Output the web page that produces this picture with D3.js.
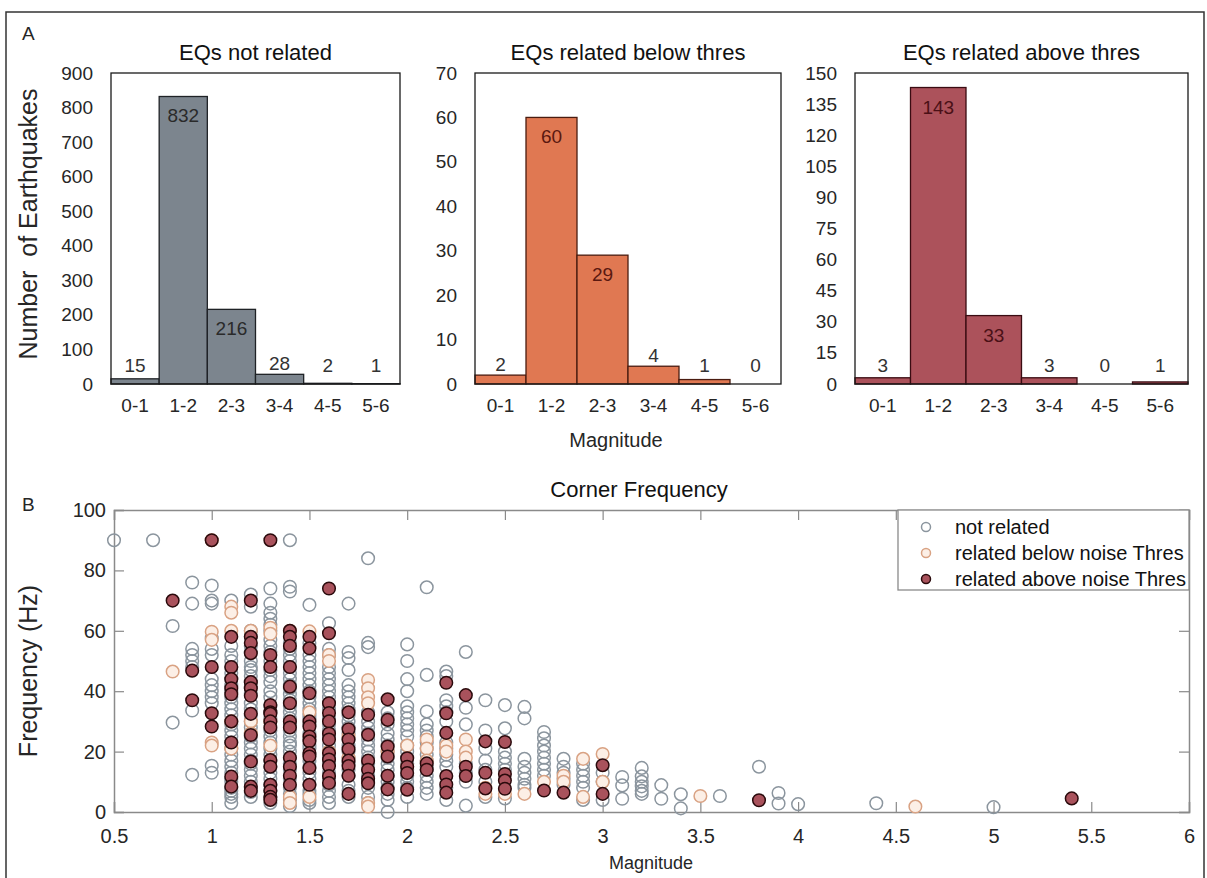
<!DOCTYPE html>
<html>
<head>
<meta charset="utf-8">
<script src="https://d3js.org/d3.v7.min.js"></script>
<style>
  body { margin: 0; background: #fff; }
  svg { display: block; }
  text { font-family: Arial, "Liberation Sans", sans-serif; }
</style>
</head>
<body>
<svg id="fig" width="1207" height="878"></svg>
<script>
// ---- data ----
var binLabels = ["0-1", "1-2", "2-3", "3-4", "4-5", "5-6"];
var notRelatedCounts = [15, 832, 216, 28, 2, 1];
var belowCounts = [2, 60, 29, 4, 1, 0];
var aboveCounts = [3, 143, 33, 3, 0, 1];

var notRelatedTicks = [0, 100, 200, 300, 400, 500, 600, 700, 800, 900];
var belowTicks = [0, 10, 20, 30, 40, 50, 60, 70];
var aboveTicks = [0, 15, 30, 45, 60, 75, 90, 105, 120, 135, 150];

var magTicks = [0.5, 1, 1.5, 2, 2.5, 3, 3.5, 4, 4.5, 5, 5.5, 6];
var freqTicks = [0, 20, 40, 60, 80, 100];

// corner frequency points, grouped by magnitude: [magnitude, [freq, ...]]
var notRelatedPts = [
  [0.5, [90]], [0.7, [90]], [0.8, [61.6, 29.6]],
  [0.9, [76, 69, 54, 52, 50, 48, 33.6, 12.3]],
  [1.0, [75, 70, 69, 57.5, 54, 52, 44, 42, 40, 38, 36, 15.3, 13]],
  [1.1, [70, 55, 52, 50, 48, 46, 44, 42, 40, 38, 36, 34, 32, 30, 29, 27, 25, 23, 21, 19, 17, 15, 13, 11, 10, 8, 7, 6, 5, 3]],
  [1.2, [72, 68, 60, 58, 55, 53, 50, 48, 47, 45, 43, 41, 39, 36, 34, 32, 30, 28, 26, 25, 23, 21, 19, 17, 16, 14, 12, 10, 8, 6.6, 5]],
  [1.3, [74, 69, 66, 64, 62, 60, 57, 55, 53, 50, 47, 45, 43, 40, 38, 35, 33, 31, 27, 25, 23, 21, 19, 17, 15, 13, 11, 9, 7, 5, 3]],
  [1.4, [90, 74.6, 73, 56, 54, 52, 50, 48, 46, 44, 42, 41, 39, 37, 35, 33, 31, 29, 27, 25, 23, 22, 20, 18, 16, 14, 11, 8, 6, 4, 2]],
  [1.5, [68.6, 56, 52, 50, 48, 46, 44, 42, 40, 38, 36, 34, 32, 31, 29, 26, 24, 22, 21, 19, 17, 15, 13, 11, 9, 7, 6, 4, 3]],
  [1.6, [62.5, 54, 52, 48, 46, 44, 42, 40, 38, 36, 34, 31, 29, 27, 25, 22, 20, 18, 16, 13, 11, 9, 7, 5, 3]],
  [1.7, [69, 53, 51, 47, 42, 40, 38, 36, 34, 32, 30, 28, 26, 24, 22, 20, 18, 16, 14, 12, 9, 7, 5]],
  [1.8, [84, 56, 54.6, 33, 30, 28, 26, 24, 22, 20, 18, 16, 14, 12, 10, 8, 5, 3]],
  [1.9, [33, 31, 29, 26, 24, 22, 20, 18, 16, 14, 12, 10, 8, 6, 4, 0]],
  [2.0, [55.5, 50, 44, 40, 35, 33, 31, 29, 27, 25, 22, 20, 18, 16, 14, 12, 10, 8, 5]],
  [2.1, [74.4, 45.4, 33.3, 29, 27, 25, 23, 21, 19, 17, 15, 14, 12, 10, 8, 6]],
  [2.2, [46.5, 45, 37, 35, 33, 30, 23, 21, 19, 17, 15, 8, 4]],
  [2.3, [53, 34.5, 29, 16, 13, 10, 2.1]],
  [2.4, [37, 27, 21, 17, 14, 10, 5]],
  [2.5, [35.4, 27.7, 20, 18, 16, 14, 4.5]],
  [2.6, [34.8, 31, 17.6, 15, 13, 11, 9, 8]],
  [2.7, [26.5, 24.4, 22, 20, 18, 16, 14, 12]],
  [2.8, [17.6, 15, 13, 11, 9]],
  [2.9, [16, 14, 12, 10, 8, 4]],
  [3.0, [13, 10, 4]],
  [3.1, [11.6, 8.8, 4.4]],
  [3.2, [14.6, 11.8, 10, 8.5, 7, 6]],
  [3.3, [8.9, 4.4]], [3.4, [5.9, 1.2]], [3.6, [5.3]], [3.8, [15]],
  [3.9, [6.3, 2.8]], [4.0, [2.6]], [4.4, [2.9]], [5.0, [1.6]]
];
var belowPts = [
  [0.8, [46.5]], [1.0, [90, 59.7, 57, 23, 22]], [1.1, [68, 66, 60, 30, 21]],
  [1.2, [60, 30, 26]], [1.3, [61, 59, 30, 22]], [1.4, [60, 5, 3]],
  [1.5, [59.8, 33, 5]], [1.6, [52, 50, 20]], [1.7, [25, 18]],
  [1.8, [43.7, 41, 38, 36, 3, 1.8]], [1.9, [20]], [2.0, [22, 15]],
  [2.1, [24, 21, 17]], [2.2, [22, 20]], [2.3, [24, 20, 18]], [2.4, [8, 6]],
  [2.5, [6]], [2.6, [6]], [2.7, [10]], [2.8, [12, 10]], [2.9, [17.6, 5]],
  [3.0, [19.2, 10]], [3.5, [5.3]], [4.6, [1.8]]
];
var abovePts = [
  [0.8, [70]], [0.9, [46.8, 37]], [1.0, [90, 48, 32.7, 28.3]],
  [1.1, [58, 48, 44, 41, 39, 30, 23, 11.7, 8.4]],
  [1.2, [70, 58, 56, 52.6, 43, 41, 38.5, 32.5, 25.5, 16.7, 8.4, 7]],
  [1.3, [90, 52, 48, 35.4, 33, 32.5, 30, 28, 17.2, 15, 9, 7, 5, 4]],
  [1.4, [60, 58, 55, 48, 41.5, 36, 30, 28, 18, 15, 12, 9]],
  [1.5, [58, 54.2, 39.3, 30, 28.3, 25, 23.4, 19.5, 18.4, 14.6, 9]],
  [1.6, [74, 59.2, 36, 32.8, 30, 26, 24, 19.5, 17.4, 15.2, 11.9, 9.6]],
  [1.7, [33, 27.4, 24, 20.8, 17, 15.2, 12, 6]],
  [1.8, [32.2, 25.6, 17, 14, 11, 9.5]],
  [1.9, [37.3, 30.5, 21.7, 18.4, 12, 7.5]],
  [2.0, [17.8, 15, 12.9, 7.4]], [2.1, [16.1, 14]],
  [2.2, [42.8, 32.7, 26.2, 11.9, 9.1, 6.4]], [2.3, [38.7, 15, 11.9]],
  [2.4, [23.4, 13, 7.8]], [2.5, [23.2, 12.6, 10.4, 7.7]],
  [2.7, [7.1]], [2.8, [6.4]], [3.0, [15.5, 6]], [3.8, [3.9]], [5.4, [4.5]]
];

function flatten(cols) {
  return cols.flatMap(function(c) { return c[1].map(function(f) { return {mag: c[0], freq: f}; }); });
}

// ---- figure ----
var svg = d3.select("#fig");
var textCol = "#262626";

svg.append("rect")
    .attr("x", 6).attr("y", 12).attr("width", 1198).attr("height", 900)
    .attr("fill", "none").attr("stroke", "#333").attr("stroke-width", 1.5);

svg.append("text").attr("x", 22).attr("y", 40).attr("font-size", 19).attr("fill", textCol).text("A");
svg.append("text").attr("x", 22).attr("y", 511).attr("font-size", 19).attr("fill", textCol).text("B");

// ---- panel A: histograms ----
var hTop = 73, hBottom = 384;

var panels = [
  {x0: 111, x1: 400, counts: notRelatedCounts, ticks: notRelatedTicks, title: "EQs not related",
   fill: "#7c858e", stroke: "#1f2226", inText: "#2a2a2a"},
  {x0: 475, x1: 781, counts: belowCounts, ticks: belowTicks, title: "EQs related below thres",
   fill: "#e07852", stroke: "#4a1c10", inText: "#5a1810"},
  {x0: 855, x1: 1188, counts: aboveCounts, ticks: aboveTicks, title: "EQs related above thres",
   fill: "#ac525b", stroke: "#3a0c12", inText: "#4a1016"}
];

panels.forEach(function(p) {
  var x = d3.scaleBand().domain(binLabels).range([p.x0, p.x1]).padding(0);
  var y = d3.scaleLinear().domain([0, p.ticks[p.ticks.length - 1]]).range([hBottom, hTop]);
  var g = svg.append("g");
  var bars = p.counts.map(function(v, i) { return {bin: binLabels[i], v: v}; });

  g.selectAll(".bar")
      .data(bars.filter(function(d) { return d.v > 0; }))
    .enter().append("rect")
      .attr("class", "bar")
      .attr("x", function(d) { return x(d.bin); })
      .attr("y", function(d) { return y(d.v); })
      .attr("width", x.bandwidth())
      .attr("height", function(d) { return hBottom - y(d.v); })
      .attr("fill", p.fill)
      .attr("stroke", p.stroke)
      .attr("stroke-width", 1.3);

  g.append("rect")
      .attr("x", p.x0).attr("y", hTop)
      .attr("width", p.x1 - p.x0).attr("height", hBottom - hTop)
      .attr("fill", "none").attr("stroke", "#1a1a1a").attr("stroke-width", 1.3);

  g.selectAll(".val")
      .data(bars)
    .enter().append("text")
      .attr("class", "val")
      .attr("x", function(d) { return x(d.bin) + x.bandwidth() / 2; })
      .attr("y", function(d) {
        var h = hBottom - y(d.v);
        return h > 40 ? y(d.v) + 26 : Math.min(y(d.v) - 4, 372);
      })
      .attr("text-anchor", "middle")
      .attr("font-size", 19)
      .attr("fill", function(d) { return (hBottom - y(d.v)) > 40 ? p.inText : "#333"; })
      .text(function(d) { return d.v; });

  g.append("g")
      .attr("transform", "translate(" + p.x0 + ",0)")
      .call(d3.axisLeft(y).tickValues(p.ticks).tickSize(0).tickPadding(18))
      .call(histAxis);

  g.append("g")
      .attr("transform", "translate(0," + hBottom + ")")
      .call(d3.axisBottom(x).tickSize(0).tickPadding(15))
      .call(histAxis);

  g.append("text")
      .attr("x", (p.x0 + p.x1) / 2).attr("y", 60)
      .attr("text-anchor", "middle").attr("font-size", 22).attr("fill", "#111")
      .text(p.title);
});

function histAxis(g) {
  g.select(".domain").remove();
  g.selectAll(".tick text").attr("font-size", 19).attr("font-family", null).attr("fill", textCol);
}

svg.append("text")
    .attr("transform", "translate(37,224) rotate(-90)")
    .attr("text-anchor", "middle").attr("font-size", 25).attr("fill", textCol)
    .style("white-space", "pre")
    .text("Number  of Earthquakes");

svg.append("text")
    .attr("x", 616).attr("y", 447)
    .attr("text-anchor", "middle").attr("font-size", 20).attr("fill", textCol)
    .text("Magnitude");

// ---- panel B: corner frequency scatter ----
var sx0 = 114, sx1 = 1189, sTop = 510, sBottom = 812;

var xs = d3.scaleLinear().domain([0.5, 6]).range([sx0, sx1]);
var ys = d3.scaleLinear().domain([0, 100]).range([sBottom, sTop]);

var s = svg.append("g");

s.append("g").attr("transform", "translate(0," + sBottom + ")")
    .call(d3.axisBottom(xs).tickValues(magTicks).tickFormat(d3.format("")).tickSize(-10).tickPadding(17))
    .call(scatterAxis);
s.append("g").attr("transform", "translate(0," + sTop + ")")
    .call(d3.axisTop(xs).tickValues(magTicks).tickFormat("").tickSize(-10))
    .call(scatterAxis);
s.append("g").attr("transform", "translate(" + sx0 + ",0)")
    .call(d3.axisLeft(ys).tickValues(freqTicks).tickSize(-10).tickPadding(8))
    .call(scatterAxis);
s.append("g").attr("transform", "translate(" + sx1 + ",0)")
    .call(d3.axisRight(ys).tickValues(freqTicks).tickFormat("").tickSize(-10))
    .call(scatterAxis);

function scatterAxis(g) {
  g.select(".domain").attr("stroke", "#8a8a8a").attr("stroke-width", 1.5);
  g.selectAll(".tick line").attr("stroke", "#8a8a8a").attr("stroke-width", 1.2);
  g.selectAll(".tick text").attr("font-size", 20).attr("font-family", null).attr("fill", textCol);
}

var series = [
  {name: "not related", pts: flatten(notRelatedPts), fill: "none", stroke: "#8b959e"},
  {name: "related below noise Thres", pts: flatten(belowPts), fill: "#fcefe6", stroke: "#d9a283"},
  {name: "related above noise Thres", pts: flatten(abovePts), fill: "#a9525c", stroke: "#2a0a0c"}
];

series.forEach(function(ser) {
  s.append("g").selectAll("circle")
      .data(ser.pts)
    .enter().append("circle")
      .attr("cx", function(d) { return xs(d.mag); })
      .attr("cy", function(d) { return ys(d.freq); })
      .attr("r", 6.3)
      .attr("fill", ser.fill)
      .attr("stroke", ser.stroke)
      .attr("stroke-width", 1.5);
});

s.append("text")
    .attr("x", 639).attr("y", 497)
    .attr("text-anchor", "middle").attr("font-size", 22).attr("fill", "#111")
    .text("Corner Frequency");

s.append("text")
    .attr("transform", "translate(37,671) rotate(-90)")
    .attr("text-anchor", "middle").attr("font-size", 25).attr("fill", textCol)
    .text("Frequency (Hz)");

s.append("text")
    .attr("x", 651).attr("y", 869)
    .attr("text-anchor", "middle").attr("font-size", 18).attr("fill", textCol)
    .text("Magnitude");

// legend
var leg = s.append("g");
leg.append("rect")
    .attr("x", 898).attr("y", sTop).attr("width", sx1 - 898).attr("height", 80)
    .attr("fill", "#fff").attr("stroke", "#8a8a8a").attr("stroke-width", 1.3);

var items = leg.selectAll(".item")
    .data(series)
  .enter().append("g")
    .attr("class", "item")
    .attr("transform", function(d, i) { return "translate(0," + (527 + i * 26) + ")"; });

items.append("circle")
    .attr("cx", 926).attr("cy", 0).attr("r", 4.5)
    .attr("fill", function(d) { return d.fill; })
    .attr("stroke", function(d) { return d.stroke; })
    .attr("stroke-width", 1.5);

items.append("text")
    .attr("x", 955).attr("y", 0).attr("dy", "0.35em")
    .attr("font-size", 20).attr("fill", "#111")
    .text(function(d) { return d.name; });
</script>
</body>
</html>
